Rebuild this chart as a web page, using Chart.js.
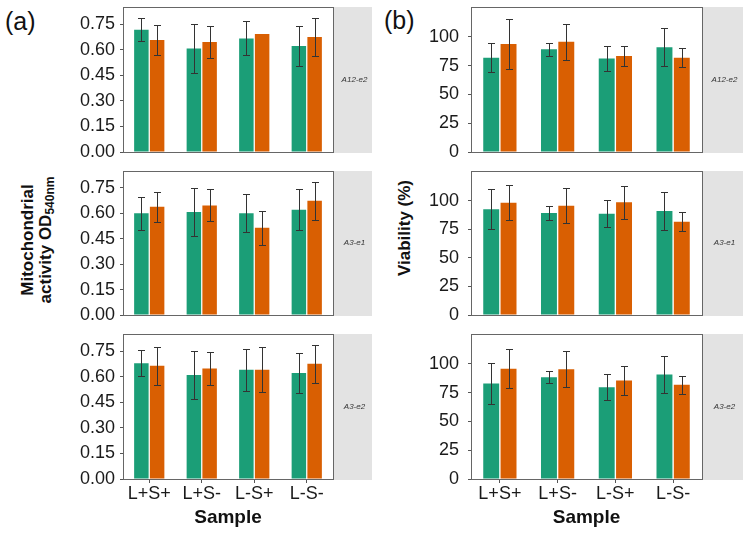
<!DOCTYPE html>
<html>
<head>
<meta charset="utf-8">
<script src="https://cdn.jsdelivr.net/npm/chart.js@4.4.1/dist/chart.umd.min.js"></script>
<style>
body { margin:0; background:#fff; width:743px; height:533px; overflow:hidden; position:relative; font-family:"Liberation Sans", Arial, sans-serif; }
canvas { position:absolute; }
.tag { position:absolute; font-size:25px; color:#111; line-height:28px; }
.ytitle { position:absolute; transform:translate(-50%,-50%) rotate(-90deg); font-weight:bold; font-size:17px; line-height:18px; text-align:center; white-space:nowrap; color:#111; }
.ytitle sub { font-size:12px; vertical-align:-3px; line-height:0; }
</style>
</head>
<body>
<div class="tag" style="left:5px;top:7px">(a)</div>
<div class="tag" style="left:384px;top:6px">(b)</div>
<div class="ytitle" style="left:37px;top:240px">Mitochondrial<br>activity OD<sub>540nm</sub></div>
<div class="ytitle" style="left:405px;top:228px">Viability (%)</div>

<canvas id="a1" width="312" height="160" style="left:60px;top:0px"></canvas>
<canvas id="a2" width="312" height="160" style="left:60px;top:164px"></canvas>
<canvas id="a3" width="312" height="206" style="left:60px;top:327px"></canvas>
<canvas id="b1" width="323" height="160" style="left:420px;top:0px"></canvas>
<canvas id="b2" width="323" height="160" style="left:420px;top:164px"></canvas>
<canvas id="b3" width="323" height="206" style="left:420px;top:327px"></canvas>

<script>
var samples = ["L+S+", "L+S-", "L-S+", "L-S-"];
var strains = ["A12-e2", "A3-e1", "A3-e2"];

// (a) mitochondrial activity, one row per strain
var odGreen = [[0.717, 0.607, 0.666, 0.621], [0.600, 0.608, 0.600, 0.622], [0.679, 0.609, 0.640, 0.622]];
var odGreenSd = [[0.068, 0.141, 0.100, 0.118], [0.098, 0.140, 0.113, 0.120], [0.078, 0.140, 0.124, 0.119]];
var odOrange = [[0.656, 0.645, 0.691, 0.674], [0.639, 0.647, 0.515, 0.675], [0.664, 0.648, 0.640, 0.675]];
var odOrangeSd = [[0.087, 0.096, 0, 0.112], [0.089, 0.095, 0.099, 0.112], [0.111, 0.095, 0.131, 0.112]];

// (b) viability %
var viaGreen = [[82.0, 89.3, 81.2, 91.0], [92.5, 89.3, 88.7, 91.0], [83.0, 88.5, 79.8, 90.8]];
var viaGreenSd = [[12.7, 5.8, 10.5, 16.6], [17.4, 5.9, 11.6, 16.4], [18.2, 5.5, 11.3, 16.4]];
var viaOrange = [[93.9, 95.7, 83.5, 82.0], [98.3, 95.7, 98.6, 81.7], [95.7, 95.4, 85.6, 81.8]];
var viaOrangeSd = [[21.5, 15.5, 8.7, 8.0], [15.2, 15.2, 14.5, 8.0], [17.0, 15.5, 12.4, 7.6]];

var odTicks = [0, 0.15, 0.30, 0.45, 0.60, 0.75];
var viaTicks = [0, 25, 50, 75, 100];

Chart.defaults.font.family = '"Liberation Sans", Arial, sans-serif';

var errorBars = {
  id: 'errorBars',
  afterDatasetsDraw: function(chart) {
    var ctx = chart.ctx, y = chart.scales.y;
    chart.data.datasets.forEach(function(ds, i) {
      chart.getDatasetMeta(i).data.forEach(function(bar, j) {
        var sd = ds.sd[j];
        if (!sd) return;
        var x = Math.round(bar.x) + 0.5;
        var top = Math.round(y.getPixelForValue(ds.data[j] + sd)) + 0.5;
        var bot = Math.round(y.getPixelForValue(ds.data[j] - sd)) + 0.5;
        ctx.save();
        ctx.strokeStyle = '#333';
        ctx.lineWidth = 1;
        ctx.beginPath();
        ctx.moveTo(x, top); ctx.lineTo(x, bot);
        ctx.moveTo(x - 3.5, top); ctx.lineTo(x + 3.5, top);
        ctx.moveTo(x - 3.5, bot); ctx.lineTo(x + 3.5, bot);
        ctx.stroke();
        ctx.restore();
      });
    });
  }
};

var panelFrame = {
  id: 'panelFrame',
  afterDraw: function(chart, args, opts) {
    var a = chart.chartArea, ctx = chart.ctx;
    ctx.save();
    ctx.fillStyle = '#e3e3e3';
    ctx.fillRect(a.right + 1, a.top, chart.width - a.right - 1, a.bottom - a.top + 1);
    ctx.strokeStyle = '#666';
    ctx.lineWidth = 1;
    ctx.strokeRect(Math.round(a.left) + 0.5, Math.round(a.top) + 0.5, Math.round(a.right - a.left), Math.round(a.bottom - a.top));
    ctx.fillStyle = '#333';
    ctx.font = 'italic 8px "Liberation Sans", Arial, sans-serif';
    ctx.textAlign = 'center';
    ctx.textBaseline = 'middle';
    ctx.fillText(opts.label, (a.right + chart.width) / 2 + 2, (a.top + a.bottom) / 2);
    ctx.restore();
  }
};

function makePanel(id, row, col) {
  var isBottom = row == 2;
  return new Chart(document.getElementById(id), {
    type: 'bar',
    data: {
      labels: samples,
      datasets: [
        { label: 'green', data: col.green[row], sd: col.greenSd[row], backgroundColor: '#1b9e77', borderWidth: 0 },
        { label: 'orange', data: col.orange[row], sd: col.orangeSd[row], backgroundColor: '#d95f02', borderWidth: 0 }
      ]
    },
    options: {
      responsive: false,
      animation: false,
      categoryPercentage: 0.6,
      barPercentage: 0.92,
      layout: { padding: { left: 0, right: col.padRight, top: 7, bottom: isBottom ? 4 : (row == 0 ? 8 : 9) } },
      plugins: {
        legend: { display: false },
        tooltip: { enabled: false },
        panelFrame: { label: strains[row] }
      },
      scales: {
        x: {
          grid: { display: isBottom, offset: false, drawOnChartArea: false, drawTicks: true, tickLength: 4, color: '#555' },
          border: { display: false },
          ticks: { display: isBottom, padding: 0, color: '#1a1a1a', font: { size: 18 } },
          title: { display: isBottom, text: 'Sample', color: '#111', font: { size: 19, weight: 'bold' }, padding: { top: 0, bottom: 0 } },
          afterFit: function(s) { s.height = isBottom ? 50 : 0; s.paddingLeft = 0; s.paddingRight = 0; }
        },
        y: {
          min: 0,
          max: col.max,
          afterBuildTicks: function(s) { s.ticks = col.ticks.map(function(v) { return { value: v }; }); },
          afterFit: function(s) { s.width = col.axisWidth; s.paddingTop = 0; s.paddingBottom = 0; },
          grid: { drawOnChartArea: false, drawTicks: true, tickLength: 3, color: '#555' },
          border: { display: false },
          ticks: { padding: col.tickPad, color: '#1a1a1a', font: { size: 18 }, callback: function(v) { return col.fmt(v); } }
        }
      }
    },
    plugins: [errorBars, panelFrame]
  });
}

var colA = { green: odGreen, greenSd: odGreenSd, orange: odOrange, orangeSd: odOrangeSd,
  ticks: odTicks, max: 0.85, axisWidth: 63, tickPad: 5, padRight: 39,
  fmt: function(v) { return v.toFixed(2); } };
var colB = { green: viaGreen, greenSd: viaGreenSd, orange: viaOrange, orangeSd: viaOrangeSd,
  ticks: viaTicks, max: 126, axisWidth: 51, tickPad: 9, padRight: 41,
  fmt: function(v) { return String(v); } };

makePanel('a1', 0, colA);
makePanel('a2', 1, colA);
makePanel('a3', 2, colA);
makePanel('b1', 0, colB);
makePanel('b2', 1, colB);
makePanel('b3', 2, colB);
</script>
</body>
</html>
